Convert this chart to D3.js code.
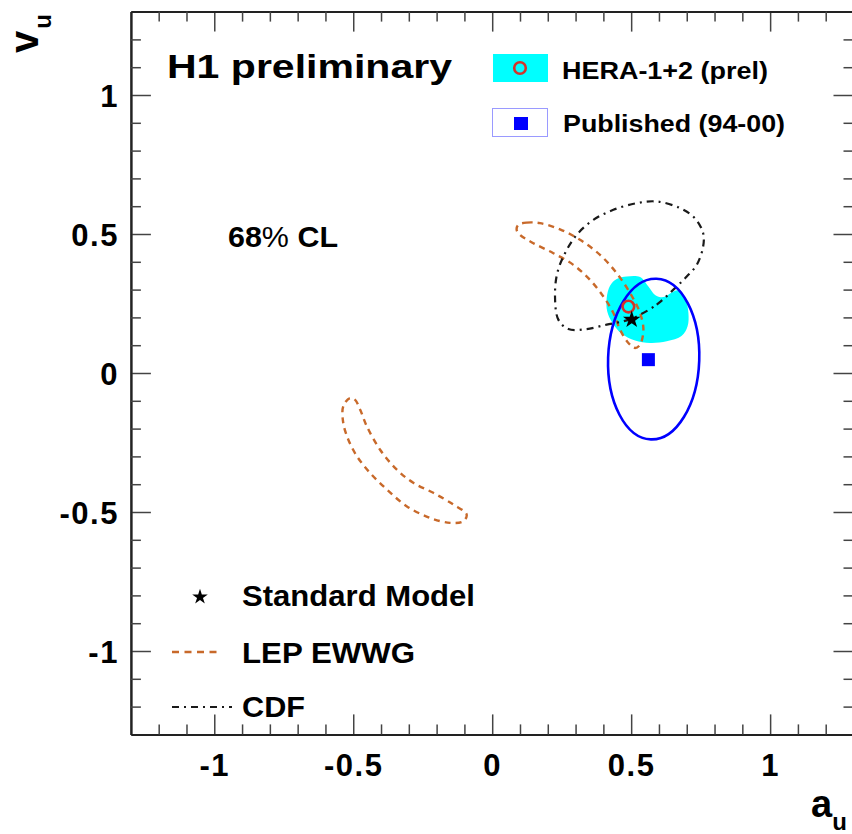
<!DOCTYPE html>
<html>
<head>
<meta charset="utf-8">
<script src="https://cdn.jsdelivr.net/npm/d3@7"></script>
<style>
  html, body { margin: 0; padding: 0; background: #fff; }
  svg { display: block; }
  text { font-family: "Liberation Sans", Arial, Helvetica, sans-serif; font-weight: bold; fill: #000; }
</style>
</head>
<body>
<svg id="chart" width="852" height="834"></svg>
<script>
// ---------------- data ----------------
const xTickValues = [-1, -0.5, 0, 0.5, 1];
const xTickLabels = ["-1", "-0.5", "0", "0.5", "1"];
const yTickValues = [-1, -0.5, 0, 0.5, 1];
const yTickLabels = ["-1", "-0.5", "0", "0.5", "1"];
const minorTickValues = [-1.2, -1.1, -0.9, -0.8, -0.7, -0.6, -0.4, -0.3, -0.2, -0.1,
                          0.1, 0.2, 0.3, 0.4, 0.6, 0.7, 0.8, 0.9, 1.1, 1.2];

// HERA-1+2 (prel) 68% CL contour (filled, cyan)
const heraContour = [
  [0.484, 0.347], [0.532, 0.345], [0.562, 0.311], [0.586, 0.281], [0.616, 0.273],
  [0.646, 0.290], [0.669, 0.297], [0.694, 0.270], [0.706, 0.216], [0.703, 0.168],
  [0.682, 0.134], [0.628, 0.114], [0.568, 0.108], [0.514, 0.117], [0.466, 0.141],
  [0.433, 0.180], [0.414, 0.221], [0.412, 0.270], [0.424, 0.314], [0.448, 0.338]
];
const heraCentral = [0.490, 0.239];

// Published (94-00)
const publishedCentral = [0.562, 0.048];
const publishedEllipseCenter = [0.581, 0.050];
const publishedEllipseHalfAxes = [0.164, 0.289];

// Standard Model
const smPoint = [0.502, 0.192];

// LEP EWWG contours
const lepUpper = [
  [0.094, 0.533], [0.124, 0.541], [0.172, 0.539], [0.244, 0.517], [0.316, 0.479],
  [0.388, 0.425], [0.448, 0.359], [0.496, 0.288], [0.532, 0.216], [0.544, 0.156],
  [0.532, 0.102], [0.514, 0.090], [0.490, 0.108], [0.460, 0.156], [0.436, 0.216],
  [0.400, 0.275], [0.352, 0.335], [0.292, 0.389], [0.220, 0.431], [0.148, 0.467],
  [0.100, 0.497], [0.088, 0.515]
];
const lepLower = [
  [-0.512, -0.090], [-0.536, -0.120], [-0.536, -0.179], [-0.518, -0.239], [-0.487, -0.299],
  [-0.440, -0.359], [-0.379, -0.419], [-0.308, -0.479], [-0.224, -0.521], [-0.152, -0.539],
  [-0.104, -0.533], [-0.092, -0.509], [-0.140, -0.473], [-0.212, -0.431], [-0.284, -0.395],
  [-0.344, -0.347], [-0.404, -0.275], [-0.451, -0.192], [-0.475, -0.132], [-0.494, -0.096]
];

// CDF contour
const cdfContour = [
  [0.508, 0.198], [0.592, 0.246], [0.651, 0.299], [0.700, 0.347], [0.736, 0.389],
  [0.759, 0.455], [0.759, 0.503], [0.729, 0.557], [0.676, 0.593], [0.592, 0.617],
  [0.520, 0.611], [0.436, 0.587], [0.364, 0.551], [0.304, 0.497], [0.262, 0.431],
  [0.234, 0.359], [0.226, 0.275], [0.238, 0.192], [0.274, 0.158], [0.340, 0.158],
  [0.412, 0.174], [0.472, 0.186]
];

const xDomain = [-1.3, 1.3];
const yDomain = [-1.3, 1.3];

// ---------------- drawing ----------------
const svg = d3.select("#chart");
const plot = { left: 130.9, right: 853.5, top: 11.6, bottom: 734.4 };

const x = d3.scaleLinear().domain(xDomain).range([plot.left, plot.right]);
const y = d3.scaleLinear().domain(yDomain).range([plot.bottom, plot.top]);

const COL_CYAN = "#00ffff";
const COL_BLUE = "#0000ff";
const COL_LEP = "#c8692a";
const COL_CDF = "#1a1a1a";
const COL_RED = "#d3342a";

const closedLine = d3.line().x(d => x(d[0])).y(d => y(d[1])).curve(d3.curveCatmullRomClosed.alpha(0.5));

const g = svg.append("g");

// HERA filled contour
g.append("path").datum(heraContour).attr("d", closedLine)
  .attr("fill", COL_CYAN).attr("stroke", "none");

// LEP contours
[lepUpper, lepLower].forEach(c => {
  g.append("path").datum(c).attr("d", closedLine)
    .attr("fill", "none").attr("stroke", COL_LEP).attr("stroke-width", 2.4)
    .attr("stroke-dasharray", "6,5");
});

// CDF contour
g.append("path").datum(cdfContour).attr("d", closedLine)
  .attr("fill", "none").attr("stroke", COL_CDF).attr("stroke-width", 2.2)
  .attr("stroke-dasharray", "7,5,2,5");

// Published ellipse
const ecx = x(publishedEllipseCenter[0]), ecy = y(publishedEllipseCenter[1]);
g.append("ellipse")
  .attr("cx", ecx).attr("cy", ecy)
  .attr("rx", x(publishedEllipseHalfAxes[0]) - x(0))
  .attr("ry", y(0) - y(publishedEllipseHalfAxes[1]))
  .attr("transform", `rotate(2,${ecx},${ecy})`)
  .attr("fill", "none").attr("stroke", COL_BLUE).attr("stroke-width", 2.6);

// Published central value
g.append("rect")
  .attr("x", x(publishedCentral[0]) - 6.5).attr("y", y(publishedCentral[1]) - 6.5)
  .attr("width", 13).attr("height", 13).attr("fill", COL_BLUE);

// HERA central
g.append("circle").attr("cx", x(heraCentral[0])).attr("cy", y(heraCentral[1]))
  .attr("r", 5.8).attr("fill", "none").attr("stroke", COL_RED).attr("stroke-width", 2.6);

// SM star
const star = d3.symbol().type(d3.symbolStar).size(95);
g.append("path").attr("d", star)
  .attr("transform", `translate(${x(smPoint[0])},${y(smPoint[1])})`).attr("fill", "#000");

// ---------------- axes ----------------
const axisG = svg.append("g");
function styleAxis(sel) {
  sel.select(".domain").attr("stroke", "#222").attr("stroke-width", 2);
  sel.selectAll(".tick line").attr("stroke", "#444").attr("stroke-width", 1.5);
}
// major ticks (inward)
const bottomAxis = d3.axisBottom(x).tickValues(xTickValues)
  .tickFormat((d, i) => xTickLabels[i]).tickSizeInner(-20).tickSizeOuter(0).tickPadding(20);
const leftAxis = d3.axisLeft(y).tickValues(yTickValues)
  .tickFormat((d, i) => yTickLabels[i]).tickSizeInner(-20).tickSizeOuter(0).tickPadding(12);
const topAxis = d3.axisTop(x).tickValues(xTickValues).tickFormat("").tickSizeInner(-20).tickSizeOuter(0);
const rightAxis = d3.axisRight(y).tickValues(yTickValues).tickFormat("").tickSizeInner(-20).tickSizeOuter(0);

const gb = axisG.append("g").attr("transform", `translate(0,${plot.bottom})`).call(bottomAxis).call(styleAxis);
const gl = axisG.append("g").attr("transform", `translate(${plot.left},0)`).call(leftAxis).call(styleAxis);
axisG.append("g").attr("transform", `translate(0,${plot.top})`).call(topAxis).call(styleAxis);
axisG.append("g").attr("transform", `translate(${plot.right},0)`).call(rightAxis).call(styleAxis);

// minor ticks
axisG.append("g").attr("transform", `translate(0,${plot.bottom})`)
  .call(d3.axisBottom(x).tickValues(minorTickValues).tickFormat("").tickSizeInner(-10).tickSizeOuter(0)).call(styleAxis);
axisG.append("g").attr("transform", `translate(${plot.left},0)`)
  .call(d3.axisLeft(y).tickValues(minorTickValues).tickFormat("").tickSizeInner(-10).tickSizeOuter(0)).call(styleAxis);
axisG.append("g").attr("transform", `translate(0,${plot.top})`)
  .call(d3.axisTop(x).tickValues(minorTickValues).tickFormat("").tickSizeInner(-10).tickSizeOuter(0)).call(styleAxis);
axisG.append("g").attr("transform", `translate(${plot.right},0)`)
  .call(d3.axisRight(y).tickValues(minorTickValues).tickFormat("").tickSizeInner(-10).tickSizeOuter(0)).call(styleAxis);

[gb, gl].forEach(a => a.selectAll(".tick text")
  .attr("font-family", "'Liberation Sans', Arial, sans-serif")
  .attr("font-weight", "bold").attr("font-size", 31).attr("fill", "#000")
  .style("letter-spacing", "1.5px"));
gl.selectAll(".tick text").attr("dy", "0.38em");

// ---------------- axis titles ----------------
svg.append("text").attr("font-size", 38).attr("x", 811).attr("y", 817)
  .text("a").append("tspan").attr("font-size", 24).attr("dy", 13).attr("dx", 0).text("u");
svg.append("text").attr("font-size", 40).attr("transform", "translate(38,53) rotate(-90)")
  .text("v").append("tspan").attr("font-size", 24).attr("dy", 13).attr("dx", 2).text("u");

// ---------------- labels ----------------
svg.append("text").attr("x", 167).attr("y", 78).attr("font-size", 33)
  .attr("textLength", 285).attr("lengthAdjust", "spacingAndGlyphs").text("H1 preliminary");
const cl = svg.append("text").attr("x", 228).attr("y", 247).attr("font-size", 30)
  .attr("textLength", 110).attr("lengthAdjust", "spacingAndGlyphs");
cl.append("tspan").text("68");
cl.append("tspan").attr("font-weight", "normal").text("%");
cl.append("tspan").text(" CL");

// top legend
svg.append("rect").attr("x", 493).attr("y", 54).attr("width", 55).attr("height", 28).attr("fill", COL_CYAN);
svg.append("circle").attr("cx", 520).attr("cy", 68).attr("r", 5.8)
  .attr("fill", "none").attr("stroke", COL_RED).attr("stroke-width", 2.6);
svg.append("text").attr("x", 562).attr("y", 78.5).attr("font-size", 23)
  .attr("textLength", 206).attr("lengthAdjust", "spacingAndGlyphs").text("HERA-1+2 (prel)");
svg.append("rect").attr("x", 492.5).attr("y", 108.5).attr("width", 55).attr("height", 28)
  .attr("fill", "#fff").attr("stroke", "#9a9aff").attr("stroke-width", 1);
svg.append("rect").attr("x", 514).attr("y", 117).attr("width", 14).attr("height", 13).attr("fill", COL_BLUE);
svg.append("text").attr("x", 563).attr("y", 132).attr("font-size", 23)
  .attr("textLength", 222).attr("lengthAdjust", "spacingAndGlyphs").text("Published (94-00)");

// bottom legend
svg.append("path").attr("d", d3.symbol().type(d3.symbolStar).size(75))
  .attr("transform", "translate(200,597)").attr("fill", "#000");
svg.append("text").attr("x", 242).attr("y", 606).attr("font-size", 29)
  .attr("textLength", 233).attr("lengthAdjust", "spacingAndGlyphs").text("Standard Model");
svg.append("line").attr("x1", 172).attr("x2", 222).attr("y1", 652).attr("y2", 652)
  .attr("stroke", COL_LEP).attr("stroke-width", 2.4).attr("stroke-dasharray", "7,5.5");
svg.append("text").attr("x", 242).attr("y", 663).attr("font-size", 29)
  .attr("textLength", 173).attr("lengthAdjust", "spacingAndGlyphs").text("LEP EWWG");
svg.append("line").attr("x1", 172).attr("x2", 232).attr("y1", 707).attr("y2", 707)
  .attr("stroke", COL_CDF).attr("stroke-width", 2.2).attr("stroke-dasharray", "7,5,2,5");
svg.append("text").attr("x", 242).attr("y", 717).attr("font-size", 29)
  .attr("textLength", 63).attr("lengthAdjust", "spacingAndGlyphs").text("CDF");
</script>
</body>
</html>
